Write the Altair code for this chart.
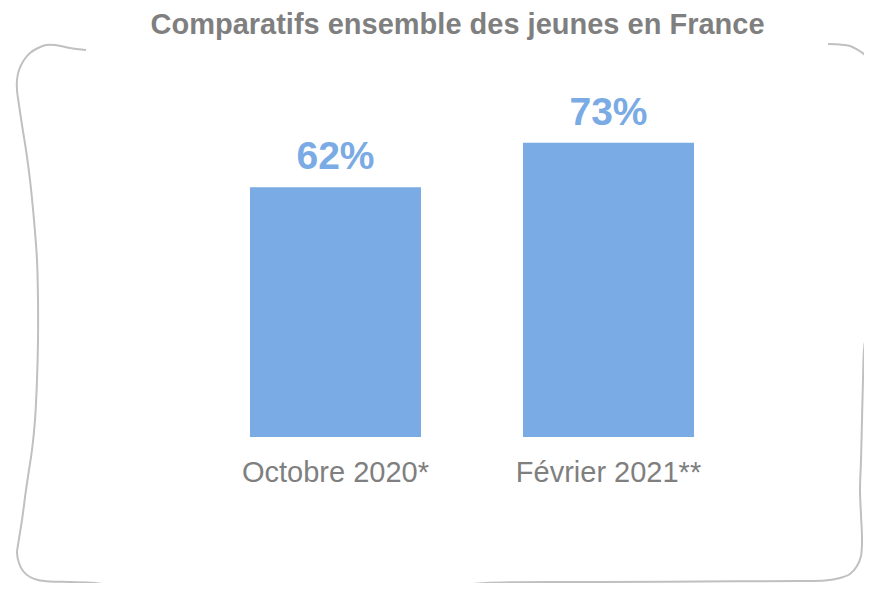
import altair as alt
import pandas as pd

# ---- data ----
categories = ["Octobre 2020*", "Février 2021**"]
values = [62, 73]
value_labels = ["62%", "73%"]
title_text = "Comparatifs ensemble des jeunes en France"

# decorative hand-drawn frame (page pixel coordinates)
frame_x = [86, 70, 55, 46, 38, 30, 24, 19, 17, 17, 19, 22, 26, 30, 34, 37, 38, 38, 37, 35,
           32, 29, 26, 22, 18, 17, 19, 23, 30, 38, 50, 70, 95, 150, 250, 350, 440, 485, 600, 700, 800,
           825, 840, 850, 857, 861, 862, 861, 860, 861, 862, 863, 864.5, 870, 878, 882, 880, 876,
           872, 865, 858, 850, 840, 828]
frame_y = [50, 48, 45, 45, 48, 53, 60, 70, 80, 90, 105, 125, 150, 180, 220, 260, 300, 340, 380, 420,
           450, 470, 490, 520, 545, 553, 563, 571, 577, 580, 581.5, 582, 583, 592, 600, 598, 588, 583, 582, 581.5, 581,
           580.5, 578, 574, 566, 556, 540, 515, 490, 460, 420, 380, 345, 320, 250, 160, 100, 78,
           65, 55, 50, 46, 44.5, 44]

bars_df = pd.DataFrame({"cat": categories, "val": values, "lab": value_labels})
frame_df = pd.DataFrame({"i": list(range(len(frame_x))), "fx": frame_x, "fy": frame_y})

BAR_COLOR = "#7aabe4"
GREY = "#7f7f7f"
FONT = "Liberation Sans"

xs = alt.Scale(type="band", domain=categories, range=[242, 686], paddingInner=0.3736, paddingOuter=0)
ys = alt.Scale(domain=[0, 100], range=[429, 26], nice=False, zero=True)

base = alt.Chart(bars_df)

bars = base.mark_bar(color=BAR_COLOR).encode(
    x=alt.X("cat:N", scale=xs, axis=None, sort=categories),
    y=alt.Y("val:Q", scale=ys, axis=None),
)

val_text = base.mark_text(
    font=FONT, fontSize=39, fontWeight="bold", color=BAR_COLOR,
    baseline="alphabetic", align="center", dy=-18,
).encode(
    x=alt.X("cat:N", scale=xs, axis=None, sort=categories),
    y=alt.Y("val:Q", scale=ys, axis=None),
    text="lab:N",
)

cat_text = base.mark_text(
    font=FONT, fontSize=29, color=GREY,
    baseline="alphabetic", align="center", dy=45,
).encode(
    x=alt.X("cat:N", scale=xs, axis=None, sort=categories),
    y=alt.Y("zero:Q", scale=ys, axis=None),
    text="cat:N",
).transform_calculate(zero="0")

frame = alt.Chart(frame_df).mark_line(
    color="#c0c0c0", strokeWidth=2, interpolate="catmull-rom"
).encode(
    x=alt.X("fx:Q", scale=alt.Scale(domain=[8, 864], range=[0, 856], nice=False, zero=False), axis=None),
    y=alt.Y("fy:Q", scale=alt.Scale(domain=[8, 583], range=[0, 575], nice=False, zero=False), axis=None),
    order="i:Q",
)

title = alt.Chart(pd.DataFrame({"t": [title_text]})).mark_text(
    font=FONT, fontSize=29, fontWeight="bold", color=GREY,
    baseline="alphabetic", align="center",
).encode(
    x=alt.value(449.5),
    y=alt.value(26),
    text="t:N",
)

chart = alt.layer(frame, bars, val_text, cat_text, title).resolve_scale(
    x="independent", y="independent"
).properties(
    width=856, height=575,
    autosize=alt.AutoSizeParams(type="none"),
    padding=0,
).configure_view(stroke=None)

chart.save("out.html", embed_options={"renderer": "svg", "actions": False})
